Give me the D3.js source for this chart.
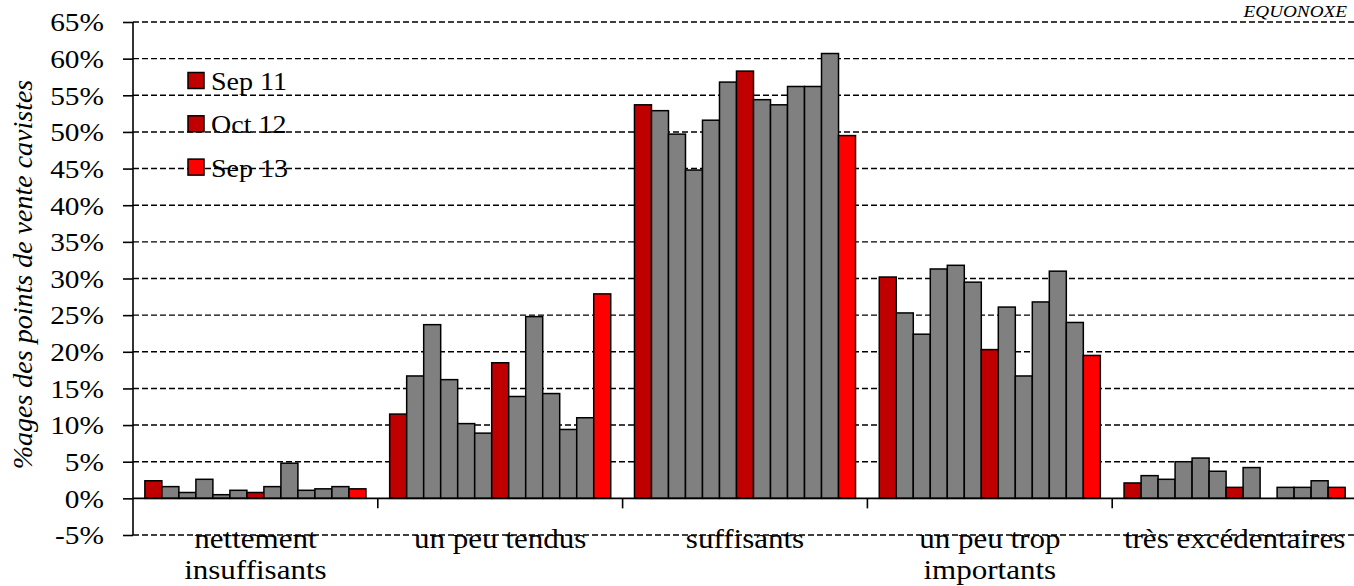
<!DOCTYPE html>
<html><head><meta charset="utf-8">
<script src="https://cdn.jsdelivr.net/npm/d3@7"></script>
<style>body{margin:0;background:#fff}svg{display:block}</style>
</head><body>
<svg id="c" width="1354" height="586"></svg>
<script>
// ---- data ----
const categories = ["nettement insuffisants", "un peu tendus", "suffisants", "un peu trop importants", "très excédentaires"];
const categoryLines = [["nettement", "insuffisants"], ["un peu tendus"], ["suffisants"], ["un peu trop", "importants"], ["très excédentaires"]];
const periods = ["Sep 11", "p2", "p3", "p4", "p5", "p6", "Oct 12", "p8", "p9", "p10", "p11", "p12", "Sep 13"];
const legendPeriods = ["Sep 11", "Oct 12", "Sep 13"];
const valsNettement = [2.4, 1.6, 0.8, 2.6, 0.5, 1.1, 0.8, 1.6, 4.8, 1.1, 1.3, 1.6, 1.3];
const valsTendus = [11.5, 16.7, 23.7, 16.2, 10.2, 8.9, 18.5, 13.9, 24.8, 14.3, 9.4, 11.0, 27.9];
const valsSuffisants = [53.7, 52.9, 49.7, 44.8, 51.6, 56.8, 58.3, 54.4, 53.7, 56.2, 56.2, 60.7, 49.5];
const valsTrop = [30.2, 25.3, 22.4, 31.3, 31.8, 29.5, 20.3, 26.1, 16.7, 26.8, 31.0, 24.0, 19.5];
const valsExced = [2.1, 3.1, 2.6, 5.0, 5.5, 3.7, 1.5, 4.2, null, 1.5, 1.5, 2.4, 1.5];
const yTicks = [-5, 0, 5, 10, 15, 20, 25, 30, 35, 40, 45, 50, 55, 60, 65];
const yTitle = "%ages des points de vente cavistes";
const source = "EQUONOXE";

// ---- styles ----
const colHighlight = "#C00000", colLast = "#FF0000", colOther = "#808080";
function barColor(p) {
  if (p === "Sep 13") return colLast;
  if (p === "Sep 11" || p === "Oct 12") return colHighlight;
  return colOther;
}
const serif = "'Liberation Serif','Times New Roman',serif";
const SX = 1.13; // horizontal stretch of the text

const allVals = [valsNettement, valsTendus, valsSuffisants, valsTrop, valsExced];
const table = categories.map((c, i) => ({cat: c, vals: periods.map((p, j) => ({p, v: allVals[i][j]}))}));

const svg = d3.select("#c");
const pLeft = 133, pRight = 1357, pTop = 22, pBottom = 535;
const y = d3.scaleLinear().domain([-5, 65]).range([pBottom, pTop]);
const x0 = d3.scaleBand().domain(categories).range([pLeft, pRight]).paddingInner(0.097).paddingOuter(0.0485);
const x1 = d3.scaleBand().domain(periods).range([0, x0.bandwidth()]);

// grid lines
svg.append("g").selectAll("line").data(yTicks.filter(t => t !== 0)).join("line")
  .attr("x1", pLeft).attr("x2", 1354).attr("y1", d => y(d)).attr("y2", d => y(d))
  .attr("stroke", "#000").attr("stroke-width", 1.4).attr("stroke-dasharray", "6,3");

// y axis
const yAxis = svg.append("g").attr("transform", `translate(${pLeft},0)`)
  .call(d3.axisLeft(y).tickValues(yTicks).tickSize(10).tickPadding(0).tickFormat(d => d + "%"));
yAxis.select(".domain").attr("stroke", "#000").attr("stroke-width", 1.6).attr("d", `M0,${y(65)}V${y(-5)}`);
yAxis.selectAll(".tick line").attr("stroke", "#000").attr("stroke-width", 1.6);
yAxis.selectAll(".tick text").attr("font-family", serif).attr("font-size", 26).attr("fill", "#000")
  .attr("text-anchor", "end").attr("x", 0).attr("dy", "0.34em")
  .attr("transform", `translate(-29,0) scale(${SX},1)`);

// bars
const groups = svg.append("g").selectAll("g").data(table).join("g")
  .attr("transform", d => `translate(${x0(d.cat)},0)`);
groups.selectAll("rect").data(d => d.vals.filter(e => e.v !== null)).join("rect")
  .attr("x", d => x1(d.p)).attr("width", x1.bandwidth())
  .attr("y", d => y(Math.max(0, d.v))).attr("height", d => Math.abs(y(d.v) - y(0)))
  .attr("fill", d => barColor(d.p)).attr("stroke", "#000").attr("stroke-width", 1.5);

// zero line + category ticks
svg.append("line").attr("x1", pLeft).attr("x2", 1354).attr("y1", y(0)).attr("y2", y(0))
  .attr("stroke", "#000").attr("stroke-width", 1.6);
const step = x0.step();
const bounds = categories.slice(1).map(c => x0(c) - step * x0.paddingInner() / 2);
svg.append("g").selectAll("line").data(bounds).join("line")
  .attr("x1", d => d).attr("x2", d => d).attr("y1", y(0)).attr("y2", y(0) + 10)
  .attr("stroke", "#000").attr("stroke-width", 1.6);

// category labels
categories.forEach((c, i) => {
  const cx = x0(c) + x0.bandwidth() / 2;
  categoryLines[i].forEach((ln, k) => {
    svg.append("text").text(ln)
      .attr("transform", `translate(${cx},${548 + k * 31}) scale(1.15,1)`)
      .attr("text-anchor", "middle").attr("font-family", serif).attr("font-size", 27).attr("fill", "#000");
  });
});

// y title
svg.append("text").text(yTitle)
  .attr("transform", `translate(32,${(y(65) + y(-5)) / 2 - 4}) rotate(-90)`)
  .attr("text-anchor", "middle").attr("font-family", serif).attr("font-style", "italic")
  .attr("font-size", 28).attr("fill", "#000");

// source
svg.append("text").text(source)
  .attr("transform", `translate(1347,17) scale(${SX},1)`)
  .attr("text-anchor", "end").attr("font-family", serif).attr("font-style", "italic")
  .attr("font-size", 17).attr("fill", "#000");

// legend
const leg = svg.append("g");
legendPeriods.forEach((p, i) => {
  const yy = 72.5 + i * 43.3;
  leg.append("rect").attr("x", 188).attr("y", yy).attr("width", 16).attr("height", 16)
    .attr("fill", barColor(p)).attr("stroke", "#000").attr("stroke-width", 1.5);
  leg.append("text").text(p).attr("transform", `translate(211,${yy + 17.5}) scale(1.1,1)`)
    .attr("font-family", serif).attr("font-size", 25.5).attr("fill", "#000");
});
</script>
</body></html>
